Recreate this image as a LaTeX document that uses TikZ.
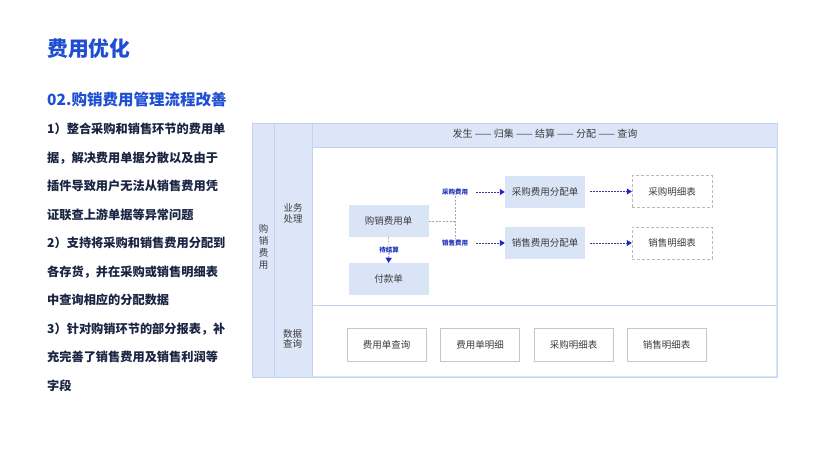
\documentclass[tikz,border=0pt]{standalone}
\usepackage{fontspec}
\setmainfont{Noto Sans CJK SC}
\usetikzlibrary{arrows.meta}
\definecolor{titleblue}{HTML}{1E4FD2}
\definecolor{bodynavy}{HTML}{1B2442}
\definecolor{panelblue}{HTML}{DCE6F8}
\definecolor{panelline}{HTML}{C3D3EF}
\definecolor{boxblue}{HTML}{DAE4F7}
\definecolor{dtext}{HTML}{3C3C3C}
\definecolor{arrowline}{HTML}{3A3A9A}
\definecolor{arrowtip}{HTML}{2222DD}
\definecolor{lblblue}{HTML}{2233BB}
\tikzset{
  fillbox/.style={fill=boxblue, draw=none, minimum width=80pt, minimum height=32pt, inner sep=0pt, text=dtext, font=\fontsize{9.5}{11}\selectfont},
  dashbox/.style={fill=white, draw=gray!55, dashed, dash pattern=on 3pt off 2pt, minimum width=80pt, minimum height=32pt, inner sep=0pt, text=dtext, font=\fontsize{9.5}{11}\selectfont},
  querybox/.style={fill=white, draw=gray!45, line width=0.6pt, minimum width=79pt, minimum height=33pt, inner sep=0pt, text=dtext, font=\fontsize{9.5}{11}\selectfont},
  tinylbl/.style={text=lblblue, font=\fontsize{6.5}{7}\selectfont\bfseries, inner sep=1pt},
  collbl/.style={text=dtext, font=\fontsize{9.5}{10.5}\selectfont, align=center, inner sep=0pt},
  greydash/.style={draw=gray!70, line width=0.6pt, dash pattern=on 2pt off 1.5pt},
  bluearrow/.style={draw=arrowline, line width=0.6pt, dash pattern=on 2pt off 1pt, -{Triangle[length=5pt,width=6pt,fill=arrowtip,color=arrowtip]}},
}
\begin{document}
\begin{tikzpicture}[x=1pt,y=-1pt]
\useasboundingbox (0,0) rectangle (820,461);
\fill[white] (0,0) rectangle (820,461);
% titles
\node[anchor=base west, inner sep=0pt, text=titleblue, font=\fontsize{20.8}{24}\selectfont\bfseries] (title) at (47,56) {费用优化};
\node[anchor=base west, inner sep=0pt, text=titleblue, font=\fontsize{15.5}{18}\selectfont\bfseries] (subtitle) at (47,105) {02.购销费用管理流程改善};
\node[anchor=base west, inner sep=0pt, text=bodynavy, align=left, font=\fontsize{12.2}{28.5}\selectfont\bfseries] (body) at (47,390) {1）整合采购和销售环节的费用单\\据，解决费用单据分散以及由于\\插件导致用户无法从销售费用凭\\证联查上游单据等异常问题\\2）支持将采购和销售费用分配到\\各存货，并在采购或销售明细表\\中查询相应的分配数据\\3）针对购销环节的部分报表，补\\充完善了销售费用及销售利润等\\字段};
% panel
\fill[panelblue] (252,123) rectangle (777,377);
\draw[panelline, line width=0.6pt] (252,123) rectangle (777,377);
\draw[panelline, line width=0.8pt] (274.5,123) -- (274.5,377);
\fill[white] (313,147) rectangle (776,376);
\draw[panelline, line width=0.6pt] (313,147) -- (776,147);
\draw[panelline, line width=0.6pt] (313,305.5) -- (776,305.5);
\draw[panelline, line width=0.6pt] (312.5,123) -- (312.5,377);
\node[text=dtext, font=\fontsize{10}{11}\selectfont, inner sep=0pt] (header) at (545,134) {发生 —— 归集 —— 结算 —— 分配 —— 查询};
\node[collbl, font=\fontsize{9.5}{12}\selectfont] (col1) at (263.5,247) {购\\销\\费\\用};
\node[collbl] (col2a) at (293,213.5) {业务\\处理};
\node[collbl] (col2b) at (292.5,339) {数据\\查询};
% boxes
\node[fillbox] (buy) at (388.5,221) {购销费用单};
\node[fillbox] (pay) at (388.5,279) {付款单};
\node[fillbox] (pa) at (545,191.5) {采购费用分配单};
\node[fillbox] (sa) at (545,243) {销售费用分配单};
\node[dashbox] (pd) at (672,191.5) {采购明细表};
\node[dashbox] (sd) at (672,243) {销售明细表};
\node[querybox] (q1) at (386.5,344.5) {费用单查询};
\node[querybox] (q2) at (480,344.5) {费用单明细};
\node[querybox] (q3) at (573.5,344.5) {采购明细表};
\node[querybox] (q4) at (666.5,344.5) {销售明细表};
% labels
\node[tinylbl] (lp) at (455,192) {采购费用};
\node[tinylbl] (ls) at (455,243) {销售费用};
\node[tinylbl] (lw) at (389,249.5) {待结算};
\coordinate (j) at (455,221);
% connectors
\draw[greydash] (buy.east) -- (j);
\draw[greydash] (lp.south) -- (ls.north);
\draw[greydash] (buy.south) -- (lw.north);
\draw[bluearrow] ([xshift=7pt]lp.east) -- (lp.east -| pa.west);
\draw[bluearrow] ([xshift=7pt]ls.east) -- (sa.west);
\draw[bluearrow] ([xshift=5pt]pa.east) -- (pd.west);
\draw[bluearrow] ([xshift=5pt]sa.east) -- (sd.west);
\draw[bluearrow] ([yshift=1pt]lw.south) -- (pay.north);
\end{tikzpicture}
\end{document}
